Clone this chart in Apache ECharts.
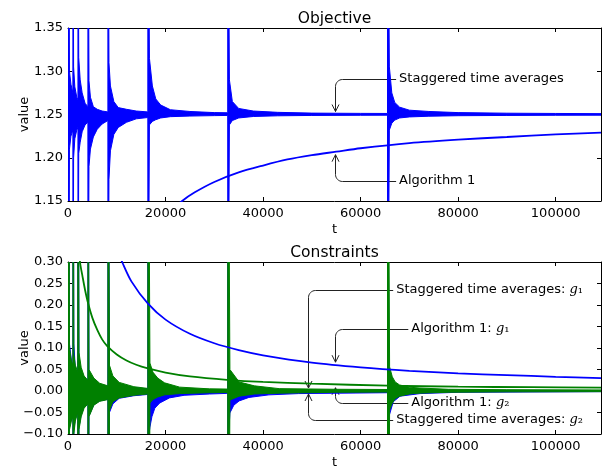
<!DOCTYPE html>
<html>
<head>
<meta charset="utf-8">
<script src="https://cdn.jsdelivr.net/npm/echarts@6/dist/echarts.min.js"></script>
<style>
  html, body { margin: 0; padding: 0; background: #fff; }
  #main { width: 603px; height: 466px; }
</style>
</head>
<body>
<div id="main"></div>
<script>
// axis limits
var tMax = 109300;
var tStep = 20000;
var objRange = [1.15, 1.35];
var conRange = [-0.10, 0.30];
var yStep = 0.05;

// Objective, Algorithm 1: [t, value]
var objAlg = [
  [20000, 1.133], [23400, 1.150], [26000, 1.160], [30000, 1.172], [35000, 1.183],
  [40000, 1.191], [45000, 1.198], [50000, 1.203], [55000, 1.207], [60000, 1.211],
  [70000, 1.217], [80000, 1.221], [90000, 1.224], [100000, 1.227], [109300, 1.229]
];

// Objective, staggered time averages: [t, low, high] envelope of the noisy trace
var objStag = [
  [0, 0.9, 1.6], [150, 0.9, 1.6], [300, 1.21, 1.30], [600, 1.225, 1.285], [1000, 1.232, 1.275],
  [1024, 0.9, 1.6], [1150, 1.20, 1.305], [1400, 1.222, 1.282], [1800, 1.232, 1.27], [2040, 1.235, 1.267],
  [2048, 0.9, 1.6], [2200, 1.205, 1.316], [2500, 1.218, 1.29], [2900, 1.23, 1.275], [3500, 1.238, 1.263], [4080, 1.241, 1.259],
  [4096, 0.9, 1.6], [4300, 1.19, 1.289], [4600, 1.21, 1.27], [5200, 1.224, 1.259], [6000, 1.233, 1.256], [7000, 1.239, 1.254], [8180, 1.243, 1.253],
  [8192, 0.9, 1.6], [8400, 1.175, 1.31], [8700, 1.208, 1.283], [9400, 1.227, 1.265], [10300, 1.235, 1.258], [12000, 1.241, 1.256], [14000, 1.245, 1.254], [16370, 1.2465, 1.253],
  [16384, 0.9, 1.6], [16700, 1.238, 1.315], [17300, 1.242, 1.283], [18000, 1.244, 1.268], [19000, 1.246, 1.261], [21000, 1.2475, 1.2555], [25000, 1.2482, 1.2535], [30000, 1.2487, 1.2522], [32750, 1.2489, 1.252],
  [32768, 0.9, 1.6], [33100, 1.238, 1.29], [33700, 1.243, 1.265], [35000, 1.246, 1.257], [38000, 1.2477, 1.254], [43000, 1.2485, 1.2525], [50000, 1.2489, 1.2516], [60000, 1.2491, 1.2513], [65520, 1.2492, 1.2512],
  [65536, 0.9, 1.6], [65900, 1.232, 1.305], [66400, 1.24, 1.275], [67000, 1.2435, 1.264], [68000, 1.246, 1.2585], [70000, 1.2472, 1.255], [74000, 1.248, 1.2535], [80000, 1.2486, 1.2522], [90000, 1.2489, 1.2515], [100000, 1.2491, 1.2512], [109300, 1.2492, 1.251]
];

// Constraints, Algorithm 1: g1 and g2 [t, value]
var conAlg1 = [
  [10000, 0.330], [11100, 0.300], [13000, 0.255], [16400, 0.203], [20000, 0.166], [25000, 0.133],
  [30000, 0.111], [35000, 0.095], [40000, 0.083], [50000, 0.066], [60000, 0.055], [70000, 0.047],
  [80000, 0.041], [90000, 0.037], [100000, 0.033], [109300, 0.030]
];
var conAlg2 = [
  [2000, 0.370], [2460, 0.300], [3000, 0.265], [3500, 0.235], [4100, 0.205], [5000, 0.170], [6000, 0.142],
  [7000, 0.120], [8000, 0.105], [10000, 0.085], [12000, 0.071], [14000, 0.061], [16200, 0.053], [20000, 0.043],
  [25000, 0.034], [32600, 0.026], [40000, 0.021], [50000, 0.017], [65536, 0.0125], [80000, 0.010], [95000, 0.0088], [109300, 0.0077]
];

// Constraints, staggered time averages: [t, low, high]
var stagG1 = [
  [0, -1, 1], [150, -1, 1], [300, -0.08, 0.11], [700, -0.065, 0.07], [1000, -0.055, 0.05],
  [1024, -1, 1], [1200, -0.09, 0.11], [1500, -0.065, 0.05], [2000, -0.045, 0.035],
  [2048, -1, 1], [2250, -0.085, 0.06], [2700, -0.055, 0.04], [3300, -0.037, 0.028], [4080, -0.028, 0.02],
  [4096, -1, 1], [4300, -0.058, 0.04], [5300, -0.032, 0.025], [6500, -0.023, 0.015], [8180, -0.019, 0.01],
  [8192, -1, 1], [8500, -0.05, 0.04], [9200, -0.03, 0.025], [10500, -0.017, 0.015], [13500, -0.011, 0.008], [16370, -0.008, 0.005],
  [16384, -1, 1], [16500, -0.11, 0.01], [16800, -0.084, 0.006], [17200, -0.06, 0.004], [17800, -0.04, 0.003], [18800, -0.028, 0.003], [20800, -0.016, 0.002], [23800, -0.01, 0.002], [29000, -0.007, 0.0015], [32750, -0.0055, 0.0015],
  [32768, -1, 1], [32900, -0.11, 0.01], [33200, -0.051, 0.006], [34000, -0.033, 0.004], [35100, -0.023, 0.003], [37100, -0.015, 0.002], [41200, -0.009, 0.002], [47300, -0.006, 0.0015], [65520, -0.004, 0.0012],
  [65536, -1, 1], [65800, -0.06, 0.03], [66700, -0.025, 0.012], [68100, -0.012, 0.006], [72200, -0.006, 0.003], [80000, -0.003, 0.0015], [109300, -0.0015, 0.001]
];
var stagG2 = [
  [0, -1, 1], [150, -1, 1], [300, -0.09, 0.1], [700, -0.07, 0.07], [1000, -0.06, 0.06],
  [1024, -1, 1], [1200, -0.1, 0.085], [1500, -0.07, 0.06], [2000, -0.05, 0.045],
  [2048, -1, 1], [2250, -0.09, 0.09], [2700, -0.06, 0.055], [3300, -0.04, 0.035], [4080, -0.03, 0.025],
  [4096, -1, 1], [4300, -0.06, 0.05], [5300, -0.033, 0.03], [6500, -0.024, 0.018], [8180, -0.02, 0.012],
  [8192, -1, 1], [8500, -0.045, 0.06], [9200, -0.025, 0.035], [10500, -0.016, 0.02], [13500, -0.01, 0.01], [16370, -0.007, 0.006],
  [16384, -1, 1], [16800, -0.028, 0.065], [17400, -0.02, 0.044], [18400, -0.014, 0.03], [19800, -0.009, 0.019], [22900, -0.006, 0.009], [29000, -0.004, 0.005], [32750, -0.0035, 0.0045],
  [32768, -1, 1], [33200, -0.021, 0.05], [35100, -0.012, 0.021], [38200, -0.007, 0.012], [43300, -0.005, 0.0055], [55000, -0.003, 0.004], [65520, -0.0025, 0.0035],
  [65536, -1, 1], [65950, -0.044, 0.056], [66500, -0.028, 0.033], [67100, -0.018, 0.021], [68000, -0.012, 0.014], [70000, -0.007, 0.009], [72000, -0.005, 0.007], [78000, -0.003, 0.004], [90000, -0.002, 0.003], [109300, -0.0015, 0.0025]
];

// annotations: label, point, text position (data coords)
var objNoteText = ['Staggered time averages', 'Algorithm 1'];
var objNotePoint = [[54800, 1.25], [54800, 1.207]];
var objNoteAt = [[67900, 1.291], [67900, 1.1735]];
var conNoteText = ['Staggered time averages: {g|g}{s|\u2081}', 'Algorithm 1: {g|g}{s|\u2081}', 'Algorithm 1: {g|g}{s|\u2082}', 'Staggered time averages: {g|g}{s|\u2082}'];
var conNotePoint = [[49300, 0.0], [54800, 0.060], [54800, 0.0145], [49300, 0.0]];
var conNoteAt = [[67300, 0.235], [70400, 0.144], [70400, -0.028], [67300, -0.0674]];

var FONT = 'DejaVu Sans';
var BLUE = '#0000ff';
var GREEN = '#008000';

var chart = echarts.init(document.getElementById('main'), null, { renderer: 'canvas' });

function fmtY(v) {
  if (Math.abs(v) < 1e-9) v = 0;
  return v.toFixed(2).replace('-', '\u2212');
}

function xAxes(grid) {
  var base = {
    gridIndex: grid, type: 'value', min: 0, max: tMax, interval: tStep,
    splitLine: { show: false },
    axisLine: { show: true, onZero: false, lineStyle: { color: '#000', width: 1 } },
    axisTick: { show: true, inside: true, length: 4, lineStyle: { color: '#000' } }
  };
  var bottom = echarts.util.merge({
    position: 'bottom', name: 't', nameLocation: 'middle', nameGap: 22, nameMoveOverlap: false,
    nameTextStyle: { fontFamily: FONT, fontSize: 13, color: '#000' },
    axisLabel: { show: true, margin: 6, fontFamily: FONT, fontSize: 13, color: '#000', showMaxLabel: false,
      formatter: function (v) { return String(Math.round(v)); } }
  }, base, true);
  var top = echarts.util.merge({ position: 'top', axisLabel: { show: false } }, base, true);
  return [bottom, top];
}

function yAxes(grid, range) {
  var base = {
    gridIndex: grid, type: 'value', min: range[0], max: range[1], interval: yStep,
    splitLine: { show: false },
    axisLine: { show: true, onZero: false, lineStyle: { color: '#000', width: 1 } },
    axisTick: { show: true, inside: true, length: 4, lineStyle: { color: '#000' } }
  };
  var left = echarts.util.merge({
    position: 'left', name: 'value', nameLocation: 'middle', nameGap: 37, nameMoveOverlap: false,
    nameTextStyle: { fontFamily: FONT, fontSize: 13, color: '#000' },
    axisLabel: { show: true, margin: 5, fontFamily: FONT, fontSize: 13, color: '#000', formatter: fmtY }
  }, base, true);
  var right = echarts.util.merge({ position: 'right', axisLabel: { show: false } }, base, true);
  return [left, right];
}

function curve(rows, color, grid) {
  return {
    type: 'line', xAxisIndex: grid * 2, yAxisIndex: grid * 2,
    data: rows, showSymbol: false, symbol: 'none', smooth: 0.3, silent: true,
    lineStyle: { color: color, width: 1.8 }, clip: true
  };
}

function band(rows, color, grid) {
  return {
    type: 'custom', xAxisIndex: grid * 2, yAxisIndex: grid * 2,
    data: rows, encode: { x: 0, y: [1, 2] }, silent: true,
    renderItem: function (params, api) {
      if (params.dataIndex !== 0) return null;
      var pts = [];
      for (var i = 0; i < rows.length; i++) pts.push(api.coord([rows[i][0], rows[i][2]]));
      for (var j = rows.length - 1; j >= 0; j--) pts.push(api.coord([rows[j][0], rows[j][1]]));
      var cs = params.coordSys;
      return {
        type: 'polygon', shape: { points: pts },
        style: { fill: color, stroke: color, lineWidth: 1, lineJoin: 'round' },
        clipPath: { type: 'rect', shape: { x: cs.x, y: cs.y, width: cs.width, height: cs.height } }
      };
    }
  };
}

var titleStyle = { fontFamily: FONT, fontSize: 15.5, fontWeight: 'normal', color: '#000' };

var option = {
  animation: false,
  backgroundColor: '#fff',
  title: [
    { text: 'Objective', left: 334.5, top: 11, textAlign: 'center', padding: 0, textStyle: titleStyle },
    { text: 'Constraints', left: 334.5, top: 245, textAlign: 'center', padding: 0, textStyle: titleStyle }
  ],
  grid: [
    { left: 68, top: 28, width: 533, height: 173, outerBoundsMode: 'none', containLabel: false },
    { left: 68, top: 262, width: 533, height: 172, outerBoundsMode: 'none', containLabel: false }
  ],
  xAxis: xAxes(0).concat(xAxes(1)),
  yAxis: yAxes(0, objRange).concat(yAxes(1, conRange)),
  series: [
    curve(objAlg, BLUE, 0),
    band(objStag, BLUE, 0),
    curve(conAlg1, BLUE, 1),
    curve(conAlg2, GREEN, 1),
    band(stagG1, BLUE, 1),
    band(stagG2, GREEN, 1)
  ]
};

chart.setOption(option);

var richG = {
  g: { fontFamily: 'DejaVu Serif', fontStyle: 'italic', fontSize: 13, fill: '#000', color: '#000' },
  s: { fontFamily: 'DejaVu Serif', fontSize: 13, fill: '#000', color: '#000' }
};

function noteEls(grid, texts, points, ats) {
  var els = [];
  for (var i = 0; i < texts.length; i++) {
    var p = chart.convertToPixel({ gridIndex: grid }, points[i]);
    var a = chart.convertToPixel({ gridIndex: grid }, ats[i]);
    var s = p[1] > a[1] ? 1 : -1;
    var r = 7;
    var cx = Math.round(p[0]) + 0.5;
    var ty = Math.round(a[1]) + 0.5;
    var tipY = p[1] - s * 3;
    var pts = [[a[0] - 3, ty]];
    for (var k = 0; k <= 8; k++) {
      var th = k / 8 * Math.PI / 2;
      pts.push([cx + r - r * Math.sin(th), ty + s * r - s * r * Math.cos(th)]);
    }
    pts.push([cx, tipY]);
    els.push({ type: 'polyline', shape: { points: pts }, style: { stroke: '#222', lineWidth: 1, fill: null }, silent: true });
    els.push({ type: 'polyline', shape: { points: [[cx - 3.5, tipY - s * 7], [cx, tipY], [cx + 3.5, tipY - s * 7]] },
      style: { stroke: '#222', lineWidth: 1, fill: null }, silent: true });
    els.push({ type: 'text', x: a[0], y: a[1], silent: true,
      style: { text: texts[i], fontFamily: FONT, fontSize: 13, fill: '#000', align: 'left', verticalAlign: 'middle', rich: richG } });
  }
  return els;
}

chart.setOption({
  graphic: noteEls(0, objNoteText, objNotePoint, objNoteAt).concat(noteEls(1, conNoteText, conNotePoint, conNoteAt))
});
</script>
</body>
</html>
